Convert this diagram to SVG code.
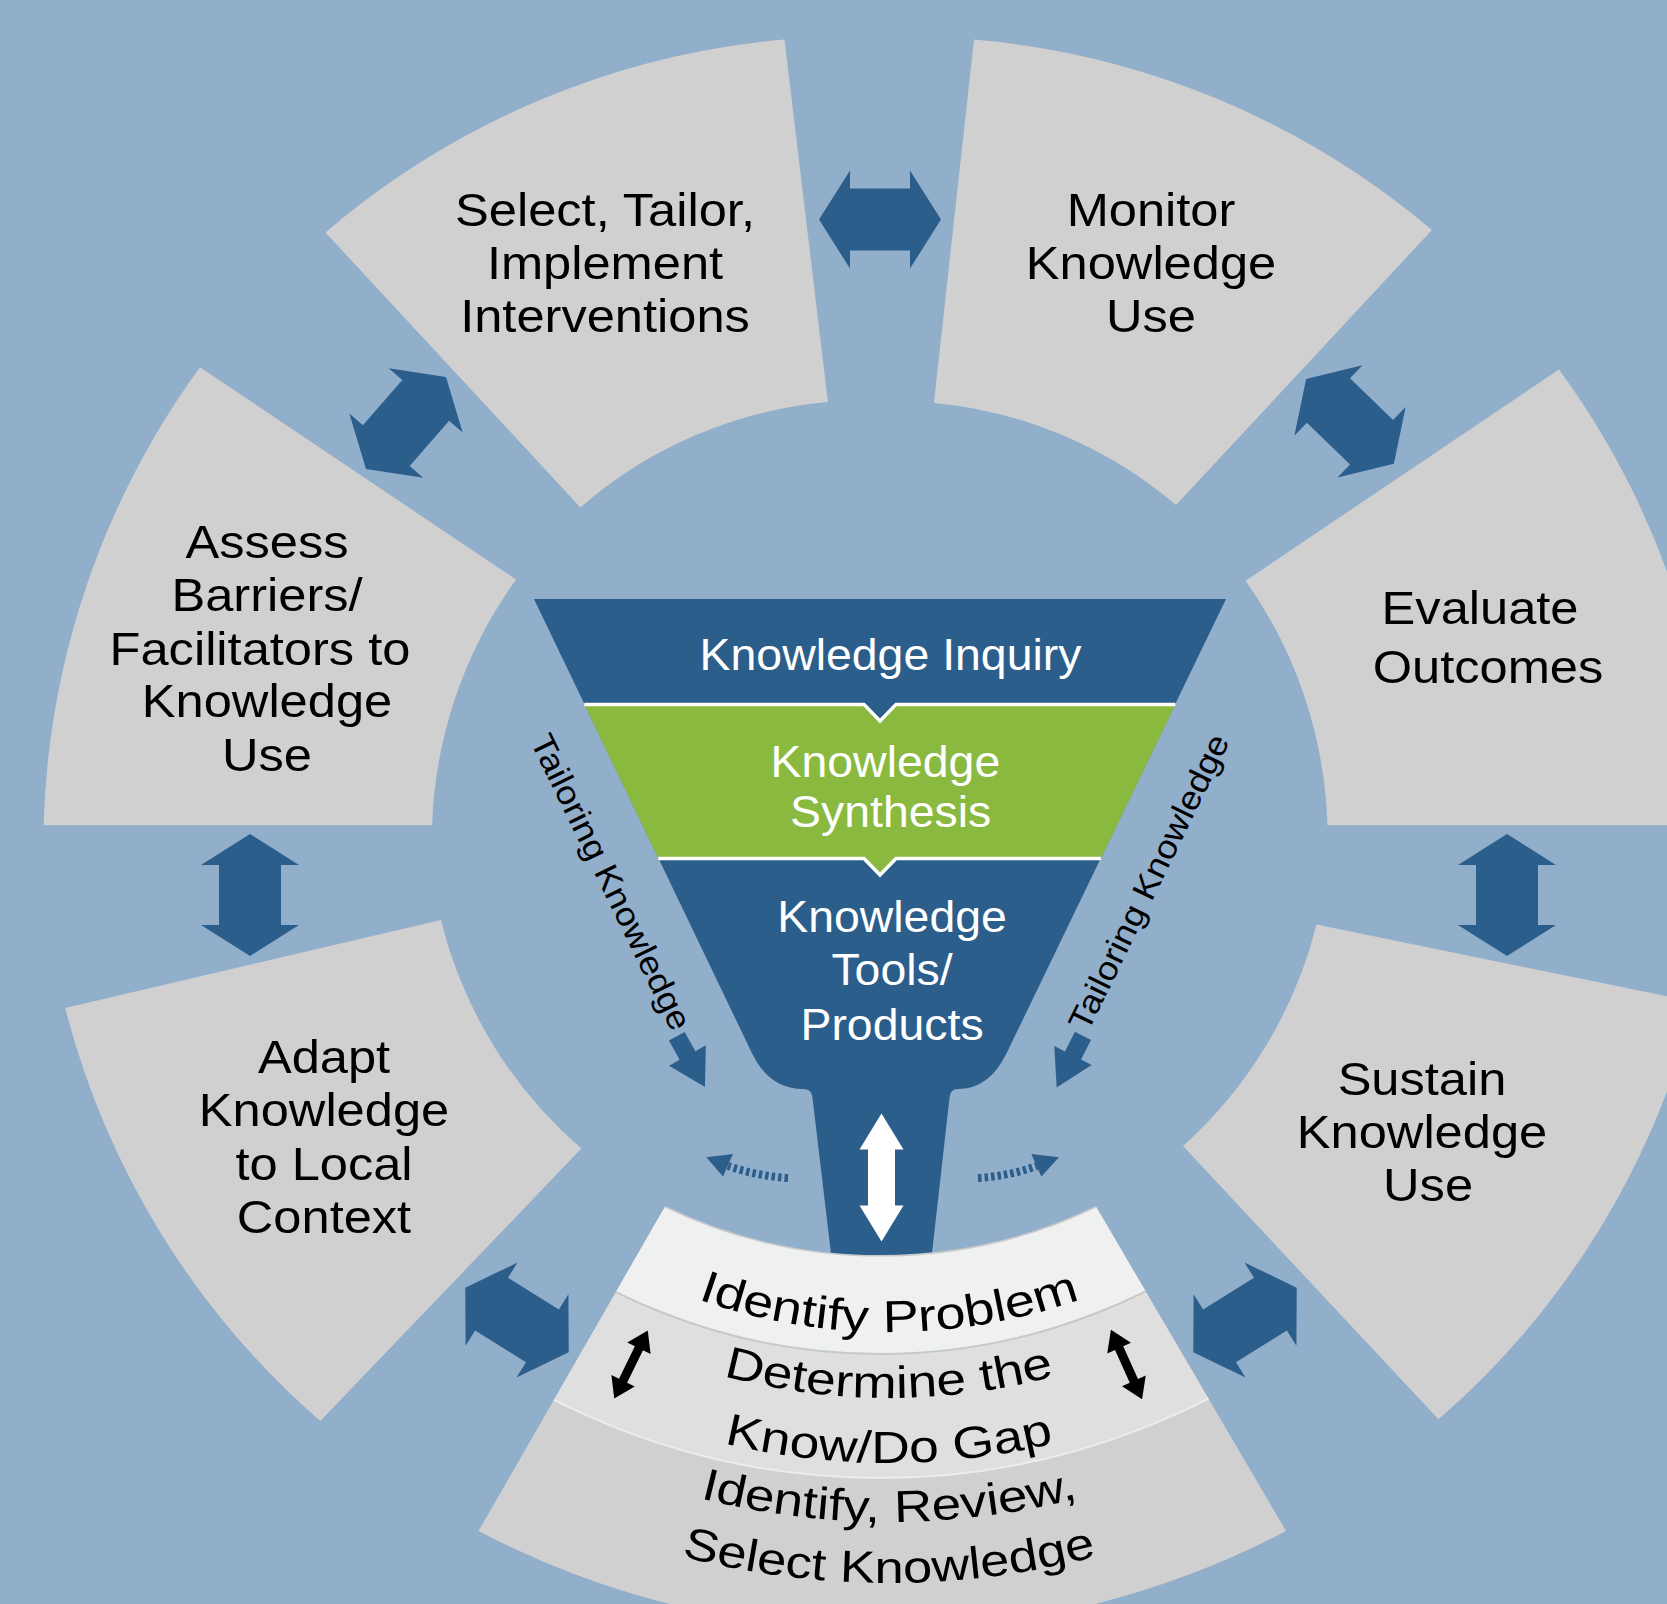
<svg xmlns="http://www.w3.org/2000/svg" width="1667" height="1604" viewBox="0 0 1667 1604">
<defs>
<style>
.seg{fill:#d0d0d0}
.arr{fill:#2c5e8c}
.lbl{font-family:"Liberation Sans",Arial,sans-serif;font-size:46px;fill:#000;text-anchor:middle}
.wl{font-family:"Liberation Sans",Arial,sans-serif;font-size:44px;fill:#fff;text-anchor:middle}
.tl{font-family:"Liberation Sans",Arial,sans-serif;font-size:33px;fill:#000;text-anchor:middle}
.cl{font-family:"Liberation Sans",Arial,sans-serif;font-size:45px;fill:#000;text-anchor:middle}
.chev{fill:none;stroke:#fff;stroke-width:3.5}
.dots{fill:none;stroke:#2c5e8c;stroke-width:8;stroke-dasharray:3.5 3}
</style>
<path id="dbl" d="M-61,0 L-30,-49 L-30,-31 L30,-31 L30,-49 L61,0 L30,49 L30,31 L-30,31 L-30,49 Z"/>
<path id="sm" d="M-22,-9 L0,-9 L0,-21 L36,0 L0,21 L0,9 L-22,9 Z"/>
<path id="blk" d="M-38,0 L-18,-13 L-18,-4.5 L18,-4.5 L18,-13 L38,0 L18,13 L18,4.5 L-18,4.5 L-18,13 Z"/>
<path id="idshape" d="M665,1206.7 A497,497 0 0 0 1096,1206.7 L1286,1531 A869,869 0 0 1 478.5,1531 Z"/>
<clipPath id="idclip"><use href="#idshape"/></clipPath>
<path id="tp1" d="M393.6,1046 A572,572 0 0 0 1384.4,1046"/>
<path id="tp2" d="M336.5,1079 A638,638 0 0 0 1441.5,1079"/>
<path id="tp3" d="M280.2,1111.5 A703,703 0 0 0 1497.8,1111.5"/>
<path id="tp4" d="M229.1,1141 A762,762 0 0 0 1548.9,1141"/>
<path id="tp5" d="M176.3,1171.5 A823,823 0 0 0 1601.7,1171.5"/>
</defs>

<rect x="0" y="0" width="1667" height="1604" fill="#91aecb"/>

<g id="select">
<path class="seg" d="M325.5,232.5 A815,815 0 0 1 784.5,39.5 L827.9,401.9 A436,436 0 0 0 580.4,507.4 Z"/>
<text class="lbl" transform="matrix(1.1 0 0 1 605 0)"><tspan x="0" y="226">Select, Tailor,</tspan><tspan x="0" y="279">Implement</tspan><tspan x="0" y="332">Interventions</tspan></text>
</g>

<g id="monitor">
<path class="seg" d="M974,39.5 A815,815 0 0 1 1432,230 L1176,505 A436,436 0 0 0 933.9,402.9 Z"/>
<text class="lbl" transform="matrix(1.1 0 0 1 1151 0)"><tspan x="0" y="226">Monitor</tspan><tspan x="0" y="279">Knowledge</tspan><tspan x="0" y="332">Use</tspan></text>
</g>

<g id="evaluate">
<path class="seg" d="M1245.6,580.7 L1559,369.5 A815,815 0 0 1 1716,825.3 L1327.4,825.3 A445,445 0 0 0 1245.6,580.7 Z"/>
<text class="lbl" transform="matrix(1.1 0 0 1 1484 0)"><tspan x="-3.6" y="624">Evaluate</tspan><tspan x="3.6" y="683">Outcomes</tspan></text>
</g>

<g id="sustain">
<path class="seg" d="M1316.5,924.6 L1695,1002 A815,815 0 0 1 1438.5,1419.3 L1183,1146.1 A442,442 0 0 0 1316.5,924.6 Z"/>
<text class="lbl" transform="matrix(1.1 0 0 1 1422 0)"><tspan x="0" y="1095">Sustain</tspan><tspan x="0" y="1148">Knowledge</tspan><tspan x="5.5" y="1201">Use</tspan></text>
</g>

<g id="adapt">
<path class="seg" d="M65.2,1007.9 L440.9,920 A442,442 0 0 0 581.3,1148.6 L320.3,1421.1 A815,815 0 0 1 65.2,1007.9 Z"/>
<text class="lbl" transform="matrix(1.1 0 0 1 324 0)"><tspan x="0" y="1073">Adapt</tspan><tspan x="0" y="1126.5">Knowledge</tspan><tspan x="0" y="1180">to Local</tspan><tspan x="0" y="1233.5">Context</tspan></text>
</g>

<g id="assess">
<path class="seg" d="M200,367.2 L516.1,579.6 A445,445 0 0 0 432.1,825.3 L43.6,825.3 A815,815 0 0 1 200,367.2 Z"/>
<text class="lbl" transform="matrix(1.1 0 0 1 267 0)"><tspan x="0" y="558">Assess</tspan><tspan x="0" y="611">Barriers/</tspan><tspan x="-6.4" y="664.5">Facilitators to</tspan><tspan x="0" y="717.5">Knowledge</tspan><tspan x="0" y="771">Use</tspan></text>
</g>

<g id="funnel">
<path fill="#2c5e8c" d="M534,599 L1226,599 L1006.7,1053 Q989.3,1089 958,1089 Q950,1089 949.5,1098 L931,1262 L832,1262 L812.5,1098 Q812,1089 803,1089 Q769.2,1089 751.9,1053 Z"/>
<path fill="#8ab93f" d="M584.3,704.4 L864,704.4 L880,721 L896,704.4 L1175.4,704.4 L1100.9,858.6 L896,858.6 L880,875 L864,858.6 L658.3,858.6 Z"/>
<polyline class="chev" points="584.3,704.4 864,704.4 880,721 896,704.4 1175.4,704.4"/>
<polyline class="chev" points="658.3,858.6 864,858.6 880,875 896,858.6 1100.9,858.6"/>
<text class="wl" transform="matrix(1.055 0 0 1 890.5 0)"><tspan x="0" y="670">Knowledge Inquiry</tspan></text>
<text class="wl" transform="matrix(1.055 0 0 1 888 0)"><tspan x="-2.5" y="777">Knowledge</tspan><tspan x="2.5" y="827">Synthesis</tspan></text>
<text class="wl" transform="matrix(1.055 0 0 1 892 0)"><tspan x="0" y="932">Knowledge</tspan><tspan x="0" y="985">Tools/</tspan><tspan x="0" y="1040">Products</tspan></text>
</g>

<g id="identify">
<use href="#idshape" fill="#d0d0d0"/>
<g clip-path="url(#idclip)">
<circle cx="880" cy="760" r="718" fill="#dfdfdf" stroke="#ececec" stroke-width="2"/>
<circle cx="880" cy="760" r="594" fill="#eff0f0" stroke="#c6c9cb" stroke-width="2"/>
</g>
<path d="M665,1206.7 A497,497 0 0 0 1096,1206.7" fill="none" stroke="#c8cacc" stroke-width="1.5"/>
<text class="cl"><textPath href="#tp1" startOffset="50%" textLength="390" lengthAdjust="spacingAndGlyphs">Identify Problem</textPath></text>
<text class="cl"><textPath href="#tp2" startOffset="50%" textLength="335" lengthAdjust="spacingAndGlyphs">Determine the</textPath></text>
<text class="cl"><textPath href="#tp3" startOffset="50%" textLength="333" lengthAdjust="spacingAndGlyphs">Know/Do Gap</textPath></text>
<text class="cl"><textPath href="#tp4" startOffset="50%" textLength="382" lengthAdjust="spacingAndGlyphs">Identify, Review,</textPath></text>
<text class="cl"><textPath href="#tp5" startOffset="50%" textLength="420" lengthAdjust="spacingAndGlyphs">Select Knowledge</textPath></text>
</g>

<g id="tailoring-labels">
<text class="tl" transform="translate(601,887) rotate(64) scale(1.1,1)">Tailoring Knowledge</text>
<text class="tl" transform="translate(1159,887) rotate(-64) scale(1.1,1)">Tailoring Knowledge</text>
</g>

<g id="connectors">
<use href="#dbl" class="arr" transform="translate(880,219.5)"/>
<use href="#dbl" class="arr" transform="translate(1350,421.4) rotate(44)"/>
<use href="#dbl" class="arr" transform="translate(1507,895) rotate(90)"/>
<use href="#dbl" class="arr" transform="translate(1245,1320) rotate(-32)"/>
<use href="#dbl" class="arr" transform="translate(517,1320) rotate(32)"/>
<use href="#dbl" class="arr" transform="translate(250,895) rotate(90)"/>
<use href="#dbl" class="arr" transform="translate(406,423) rotate(-49)"/>
<use href="#sm" class="arr" transform="translate(687.5,1055.5) rotate(61)"/>
<use href="#sm" class="arr" transform="translate(1073,1055.5) rotate(117)"/>
<path class="dots" d="M788,1178 Q757,1176 728,1166"/>
<polygon class="arr" points="706.3,1157.3 733,1154 723,1176.5"/>
<path class="dots" d="M978,1178 Q1009,1176 1037,1166"/>
<polygon class="arr" points="1059,1157.3 1031.3,1154 1041.3,1176.5"/>
<path fill="#fff" d="M881.5,1113.5 L903.5,1149.5 L895,1149.5 L895,1205.5 L903.5,1205.5 L881.5,1241.5 L859.5,1205.5 L868,1205.5 L868,1149.5 L859.5,1149.5 Z"/>
<use href="#blk" fill="#000" transform="translate(631,1364.5) rotate(-63.8)"/>
<use href="#blk" fill="#000" transform="translate(1126.5,1364.5) rotate(65.8)"/>
</g>
</svg>
